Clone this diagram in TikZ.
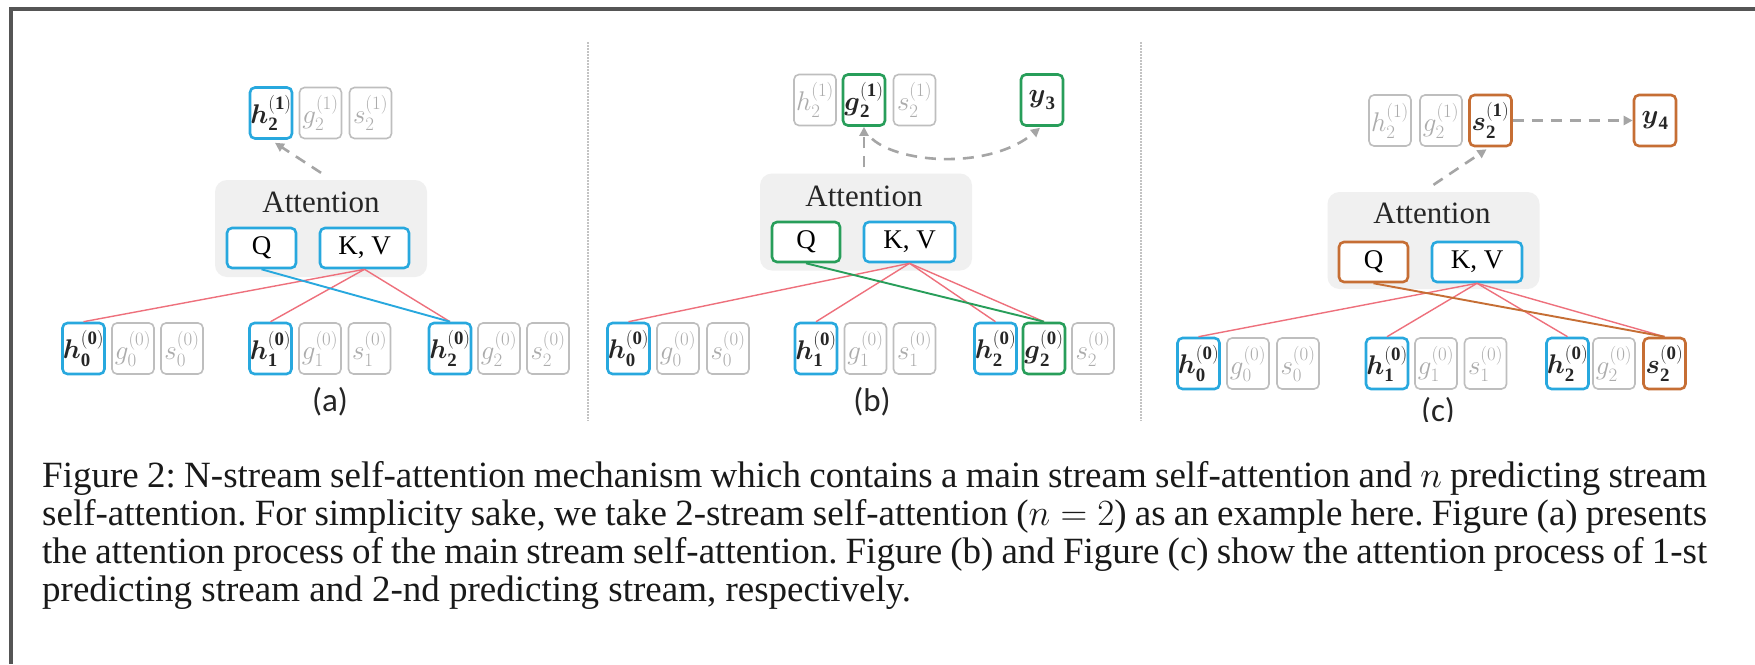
\RequirePackage{fix-cm}
\documentclass[tikz,border=0pt]{standalone}
\usepackage{amsmath}
\usepackage{fontspec}
\setmainfont{Liberation Serif}
\newfontfamily\panelfont{Carlito}
\usetikzlibrary{arrows.meta,calc}

\definecolor{cblue}{RGB}{40,168,222}
\definecolor{cgreen}{RGB}{40,158,90}
\definecolor{corange}{RGB}{198,110,52}
\definecolor{cred}{RGB}{238,112,124}
\definecolor{boxgray}{RGB}{190,190,190}
\definecolor{txtgray}{RGB}{172,172,172}
\definecolor{attfill}{RGB}{240,240,240}
\definecolor{flowgray}{RGB}{165,165,165}
\definecolor{framegray}{RGB}{85,85,85}
\definecolor{divgray}{RGB}{195,195,195}

% bold token label, e.g. \tok{h}{0}{0}
\newcommand{\tok}[3]{$\boldsymbol{#1}_{\mathbf{#2}}^{\mathbf{(#3)}}$}
% faded token label
\newcommand{\faded}[3]{$#1_{#2}^{(#3)}$}

\tikzset{
  cellbox/.style={rounded corners=5pt, minimum width=42pt, minimum height=51pt,
    inner sep=0pt, fill=white, font=\fontsize{27}{27}\selectfont},
  hotbox/.style={cellbox, draw=#1, line width=2.6pt, text=black!85},
  coldbox/.style={cellbox, draw=boxgray, line width=1.6pt, text=txtgray},
  attbox/.style={rounded corners=12pt, fill=attfill, minimum width=212pt,
    minimum height=97pt, inner sep=0pt},
  qkv/.style={rounded corners=5pt, draw=#1, line width=2.6pt, fill=white,
    minimum height=40pt, inner sep=0pt, font=\fontsize{27}{27}\selectfont},
  attlabel/.style={font=\fontsize{31}{31}\selectfont, inner sep=0pt, text=black!85},
  panellabel/.style={font=\panelfont\fontsize{33}{33}\selectfont, inner sep=0pt, text=black!85},
  kvlink/.style={draw=cred, line width=1.4pt},
  qlink/.style={draw=#1, line width=1.9pt},
  flow/.style={draw=flowgray, line width=2.6pt, dash pattern=on 11pt off 8pt,
    -{Triangle[length=9pt,width=9pt]}},
  divider/.style={draw=divgray, line width=1.6pt, dash pattern=on 1.5pt off 1.5pt},
}

\begin{document}
\begin{tikzpicture}[x=1pt,y=-1pt]
\useasboundingbox (0,0) rectangle (1755,664);
\fill[white] (0,0) rectangle (1755,664);

% page frame
\draw[framegray, line width=3.5pt] (9,9) -- (1755,9);
\draw[framegray, line width=4pt] (10.5,9) -- (10.5,664);

% separators between the three panels
\draw[divider] (588,42) -- (588,421);
\draw[divider] (1141,42) -- (1141,421);

% ---------------- (a) main stream ----------------
\node[attbox] (atta) at (321,228.5) {};
\node[attlabel] (attla) at (321,202) {Attention};
\node[qkv=cblue, minimum width=69pt] (qa) at (261.5,248) {Q};
\node[qkv=cblue, minimum width=89pt] (kva) at (364.5,248) {K, V};

\node[hotbox=cblue] (ah2t) at (271,113) {\tok{h}{2}{1}};
\node[coldbox] (ag2t) at (320.5,113) {\faded{g}{2}{1}};
\node[coldbox] (as2t) at (370.5,113) {\faded{s}{2}{1}};

\node[hotbox=cblue] (ah0) at (83.5,348.5) {\tok{h}{0}{0}};
\node[coldbox] (ag0) at (133,348.5) {\faded{g}{0}{0}};
\node[coldbox] (as0) at (182,348.5) {\faded{s}{0}{0}};
\node[hotbox=cblue] (ah1) at (270.5,348.5) {\tok{h}{1}{0}};
\node[coldbox] (ag1) at (320,348.5) {\faded{g}{1}{0}};
\node[coldbox] (as1) at (369.5,348.5) {\faded{s}{1}{0}};
\node[hotbox=cblue] (ah2) at (450,348.5) {\tok{h}{2}{0}};
\node[coldbox] (ag2) at (499,348.5) {\faded{g}{2}{0}};
\node[coldbox] (as2) at (548,348.5) {\faded{s}{2}{0}};

\node[panellabel] (laba) at (330,402) {(a)};

\foreach \t in {ah0,ah1,ah2} \draw[kvlink] (kva.south) -- (\t.north);
\draw[qlink=cblue] (qa.south) -- (ah2.north);
\draw[flow] ($(atta.north)+(0,-7)$) -- ($(ah2t.south)+(4,3)$);

% ---------------- (b) 1-st predicting stream ----------------
\node[attbox] (attb) at (866,222) {};
\node[attlabel] (attlb) at (864,196) {Attention};
\node[qkv=cgreen, minimum width=68pt] (qb) at (806,242) {Q};
\node[qkv=cblue, minimum width=91pt] (kvb) at (909.5,242) {K, V};

\node[coldbox] (bh2t) at (815,100) {\faded{h}{2}{1}};
\node[hotbox=cgreen] (bg2t) at (864,100) {\tok{g}{2}{1}};
\node[coldbox] (bs2t) at (914.5,100) {\faded{s}{2}{1}};
\node[hotbox=cgreen] (y3) at (1042,100) {$\boldsymbol{y}_{\mathbf{3}}$};

\node[hotbox=cblue] (bh0) at (628.5,348.5) {\tok{h}{0}{0}};
\node[coldbox] (bg0) at (678,348.5) {\faded{g}{0}{0}};
\node[coldbox] (bs0) at (728,348.5) {\faded{s}{0}{0}};
\node[hotbox=cblue] (bh1) at (816,348.5) {\tok{h}{1}{0}};
\node[coldbox] (bg1) at (865.5,348.5) {\faded{g}{1}{0}};
\node[coldbox] (bs1) at (914.5,348.5) {\faded{s}{1}{0}};
\node[hotbox=cblue] (bh2) at (995.5,348.5) {\tok{h}{2}{0}};
\node[hotbox=cgreen] (bg2) at (1044,348.5) {\tok{g}{2}{0}};
\node[coldbox] (bs2) at (1093,348.5) {\faded{s}{2}{0}};

\node[panellabel] (labb) at (872,402) {(b)};

\foreach \t in {bh0,bh1,bh2,bg2} \draw[kvlink] (kvb.south) -- (\t.north);
\draw[qlink=cgreen] (qb.south) -- (bg2.north);
\draw[flow] ($(attb.north -| bg2t.south)+(0,-6)$) -- (bg2t.south);
\draw[flow] ($(bg2t.south)+(8,12)$) .. controls ($(bg2t.south)+(36,37)$)
  and ($(y3.south)+(-52,43)$) .. ($(y3.south)+(-2,1)$);

% ---------------- (c) 2-nd predicting stream ----------------
\node[attbox] (attc) at (1433.5,240.5) {};
\node[attlabel] (attlc) at (1432,213) {Attention};
\node[qkv=corange, minimum width=69pt] (qc) at (1373.5,262) {Q};
\node[qkv=cblue, minimum width=90pt] (kvc) at (1477,262) {K, V};

\node[coldbox] (ch2t) at (1390,120.5) {\faded{h}{2}{1}};
\node[coldbox] (cg2t) at (1441,120.5) {\faded{g}{2}{1}};
\node[hotbox=corange] (cs2t) at (1490.5,120.5) {\tok{s}{2}{1}};
\node[hotbox=corange] (y4) at (1655,120.5) {$\boldsymbol{y}_{\mathbf{4}}$};

\node[hotbox=cblue] (ch0) at (1198.5,363.5) {\tok{h}{0}{0}};
\node[coldbox] (cg0) at (1248,363.5) {\faded{g}{0}{0}};
\node[coldbox] (cs0) at (1298,363.5) {\faded{s}{0}{0}};
\node[hotbox=cblue] (ch1) at (1387,363.5) {\tok{h}{1}{0}};
\node[coldbox] (cg1) at (1436,363.5) {\faded{g}{1}{0}};
\node[coldbox] (cs1) at (1485.5,363.5) {\faded{s}{1}{0}};
\node[hotbox=cblue] (ch2) at (1567.5,363.5) {\tok{h}{2}{0}};
\node[coldbox] (cg2) at (1614,363.5) {\faded{g}{2}{0}};
\node[hotbox=corange] (cs2) at (1664.5,363.5) {\tok{s}{2}{0}};

\begin{scope}
  \clip (1141,0) rectangle (1755,421);
  \node[panellabel] (labc) at (1438,412) {(c)};
\end{scope}

\foreach \t in {ch0,ch1,ch2,cs2} \draw[kvlink] (kvc.south) -- (\t.north);
\draw[qlink=corange] (qc.south) -- (cs2.north);
\draw[flow] ($(attc.north)+(0,-7)$) -- ($(cs2t.south)+(-4,2)$);
\draw[flow] (cs2t.east) -- (y4.west);

% ---------------- caption ----------------
\node[anchor=north west, inner sep=0pt, text width=1665pt, align=justify,
      font=\fontsize{37}{38}\selectfont\frenchspacing, text=black!90] (caption) at (42,461)
{Figure 2: N-stream self-attention mechanism which contains a main stream self-attention and $n$ predicting stream\linebreak
self-attention. For simplicity sake, we take 2-stream self-attention ($n=2$) as an example here. Figure (a) presents\linebreak
the attention process of the main stream self-attention. Figure (b) and Figure (c) show the attention process of 1-st\linebreak
predicting stream and 2-nd predicting stream, respectively.};
\end{tikzpicture}
\end{document}
